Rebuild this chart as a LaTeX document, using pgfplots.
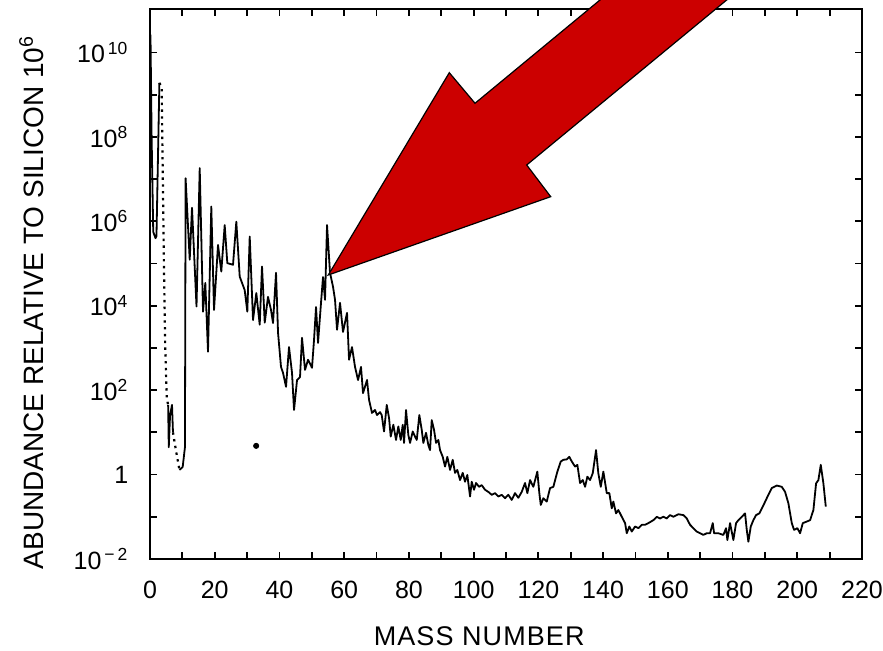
\documentclass[border=0pt]{standalone}
\usepackage{fontspec}
\setmainfont{Liberation Sans}
\usepackage{pgfplots}
\usepackage{pgfplotstable}
\pgfplotsset{compat=1.18}
\definecolor{arrowred}{RGB}{204,0,0}

% log10(abundance relative to Si = 1e6) versus mass number
\pgfplotstableread{
x y
0.15 10.42
0.5 8.0
1.0 5.75
1.7 5.6
2.0 5.65
2.9 9.28
}\hydrogen
\pgfplotstableread{
x y
2.9 9.28
3.6 9.18
4.3 5.0
4.7 3.0
5.2 1.8
5.6 1.65
}\dotA
\pgfplotstableread{
x y
5.6 1.65
5.8 0.65
6.2 1.41
6.8 1.65
7.1 1.0
}\lithium
\pgfplotstableread{
x y
7.1 1.0
8.0 0.58
9.1 0.11
}\dotB
\pgfplotstableread{
x y
9.1 0.11
10.1 0.18
10.8 0.65
11.0 7.02
12.27 5.09
12.98 6.32
14.37 3.98
15.36 7.26
16.38 3.86
17.09 4.54
17.92 2.91
18.94 6.35
19.78 3.90
21.01 5.44
22.03 4.81
23.08 5.91
23.89 5.01
25.65 4.97
26.67 5.99
27.72 4.69
29.26 4.37
30.07 3.86
30.81 5.64
31.83 3.66
32.85 4.30
33.90 3.55
34.61 4.93
35.45 3.60
36.46 4.21
37.39 3.90
38.01 3.59
38.94 4.78
39.56 3.36
40.48 2.55
41.10 2.41
42.03 2.08
42.95 3.02
43.88 2.41
44.50 1.53
45.43 2.24
46.35 2.31
46.97 3.24
47.90 2.48
48.83 2.72
50.06 2.53
50.68 3.19
51.30 3.97
51.92 3.12
52.84 4.07
53.46 4.68
54.08 4.14
54.70 5.91
55.62 4.78
56.55 4.45
57.17 4.14
57.79 3.43
58.71 4.07
59.64 3.38
60.88 3.83
61.50 2.72
62.42 3.02
63.35 2.55
64.28 2.24
65.20 2.55
65.82 1.93
67.06 2.24
67.68 1.77
68.60 1.46
69.53 1.53
70.15 1.41
71.08 1.48
71.60 1.41
72.31 1.02
73.15 1.65
73.86 1.34
74.38 0.90
75.19 1.18
76.02 0.82
76.73 1.14
77.47 0.82
78.09 1.18
78.49 0.75
79.11 1.53
79.82 0.94
80.35 0.75
81.18 1.02
81.89 0.90
82.42 0.82
83.22 1.41
83.96 1.06
84.46 0.75
85.29 0.99
86.00 0.70
86.53 0.58
87.05 1.29
87.76 1.06
88.38 0.75
89.09 0.82
89.62 0.58
90.45 0.42
91.16 0.19
91.87 0.42
92.71 0.11
93.54 0.35
94.25 0.04
94.96 0.11
95.80 -0.13
96.63 0.04
97.34 -0.17
98.05 -0.01
98.89 -0.52
99.41 -0.17
100.12 -0.36
100.74 -0.20
101.67 -0.29
102.50 -0.25
103.52 -0.36
104.54 -0.41
105.59 -0.48
106.61 -0.44
107.63 -0.52
108.68 -0.48
109.70 -0.56
110.72 -0.48
111.77 -0.60
112.79 -0.44
113.81 -0.55
114.86 -0.41
115.88 -0.20
116.60 -0.44
117.43 -0.13
118.45 -0.29
119.68 0.07
120.30 -0.44
120.74 -0.72
121.54 -0.56
122.59 -0.64
123.61 -0.32
124.63 -0.29
125.87 0.07
126.92 0.31
127.72 0.35
128.77 0.36
129.57 0.42
130.32 0.31
131.34 0.19
132.05 0.23
132.88 -0.20
133.72 -0.13
134.43 -0.29
135.14 -0.05
135.97 -0.13
136.80 0.03
137.82 0.58
138.53 0.03
139.28 -0.29
140.08 0.07
141.13 -0.44
141.93 -0.44
142.68 -0.80
143.17 -0.64
144.00 -0.92
144.72 -0.84
145.77 -1.00
146.79 -1.15
147.31 -1.39
148.11 -1.23
148.86 -1.35
149.88 -1.23
150.90 -1.27
151.95 -1.19
152.97 -1.19
153.99 -1.15
155.53 -1.08
156.58 -1.00
157.60 -1.04
158.62 -1.00
159.67 -1.04
160.69 -0.96
161.71 -1.00
163.26 -0.94
164.80 -0.96
165.85 -1.04
166.87 -1.19
167.89 -1.27
168.94 -1.35
169.96 -1.39
170.98 -1.43
172.03 -1.39
173.05 -1.39
173.89 -1.15
174.29 -1.39
175.62 -1.39
177.16 -1.43
177.99 -1.27
178.40 -1.55
179.23 -1.15
180.25 -1.55
181.09 -1.15
181.80 -1.08
182.85 -1.00
183.87 -0.92
184.39 -1.31
184.89 -1.59
185.63 -1.23
186.43 -1.08
187.27 -0.96
188.29 -0.92
189.34 -0.76
190.57 -0.56
192.12 -0.32
193.66 -0.26
195.21 -0.29
196.23 -0.41
197.25 -0.68
198.30 -1.15
199.01 -1.31
200.03 -1.27
200.87 -1.39
201.70 -1.15
202.72 -1.12
203.96 -1.08
204.98 -0.84
205.81 -0.21
206.52 -0.13
207.26 0.23
208.07 -0.21
208.81 -0.76
}\mainseries

\begin{document}
\begin{tikzpicture}
\useasboundingbox (0,0) rectangle (441.5pt,325.5pt);
\begin{axis}[
  at={(75pt,46pt)}, anchor=south west,
  scale only axis, width=356pt, height=275pt,
  xmin=0, xmax=220, ymin=-2, ymax=11.03,
  xtick={0,20,...,220}, minor xtick={10,30,...,210},
  ytick={-2,0,2,4,6,8,10}, minor ytick={-1,1,3,5,7,9},
  yticklabels={10\textsuperscript{\,−\,2},1,10\textsuperscript{2},10\textsuperscript{4},10\textsuperscript{6},10\textsuperscript{8},10\textsuperscript{\,10}},
  tick align=inside, tick pos=both,
  major tick length=3.5pt, minor tick length=3.5pt,
  tick style={black, line width=0.9pt},
  axis line style={line width=1.4pt},
  /pgf/number format/assume math mode=true,
  tick label style={font=\fontsize{12.5}{14}\selectfont},
  xticklabel style={yshift=-7.5pt},
  yticklabel style={xshift=-7.3pt},
]
\addplot[black, line width=0.9pt, line join=round] table {\hydrogen};
\addplot[black, line width=1.1pt, dash pattern=on 1.2pt off 2.2pt] table {\dotA};
\addplot[black, line width=0.9pt, line join=round] table {\lithium};
\addplot[black, line width=1.1pt, dash pattern=on 1.2pt off 2.2pt] table {\dotB};
\addplot[black, line width=0.9pt, line join=round] table {\mainseries};
\addplot[only marks, mark=*, mark size=1.3pt, black] coordinates {(32.8,0.68)};
\end{axis}
\node[rotate=90, anchor=base, inner sep=0pt, font=\fontsize{14}{16}\selectfont] at (21.65pt,174.25pt) {ABUNDANCE RELATIVE TO SILICON 10\textsuperscript{6}};
\node[anchor=base, inner sep=0pt, font=\fontsize{13.5}{15}\selectfont\addfontfeature{LetterSpace=4}] at (239.6pt,2.5pt) {MASS NUMBER};
\begin{scope}
\clip (0,0) rectangle (441.5pt,325.5pt);
\filldraw[fill=arrowred, draw=black, line width=0.6pt, line join=miter]
  (164.15pt,188pt) -- (224.65pt,289.15pt) -- (237.5pt,273.85pt) -- (306.05pt,330.5pt)
  -- (369.4pt,330.5pt) -- (263.35pt,243pt) -- (275.35pt,227.15pt) -- cycle;
\end{scope}
\end{tikzpicture}
\end{document}
